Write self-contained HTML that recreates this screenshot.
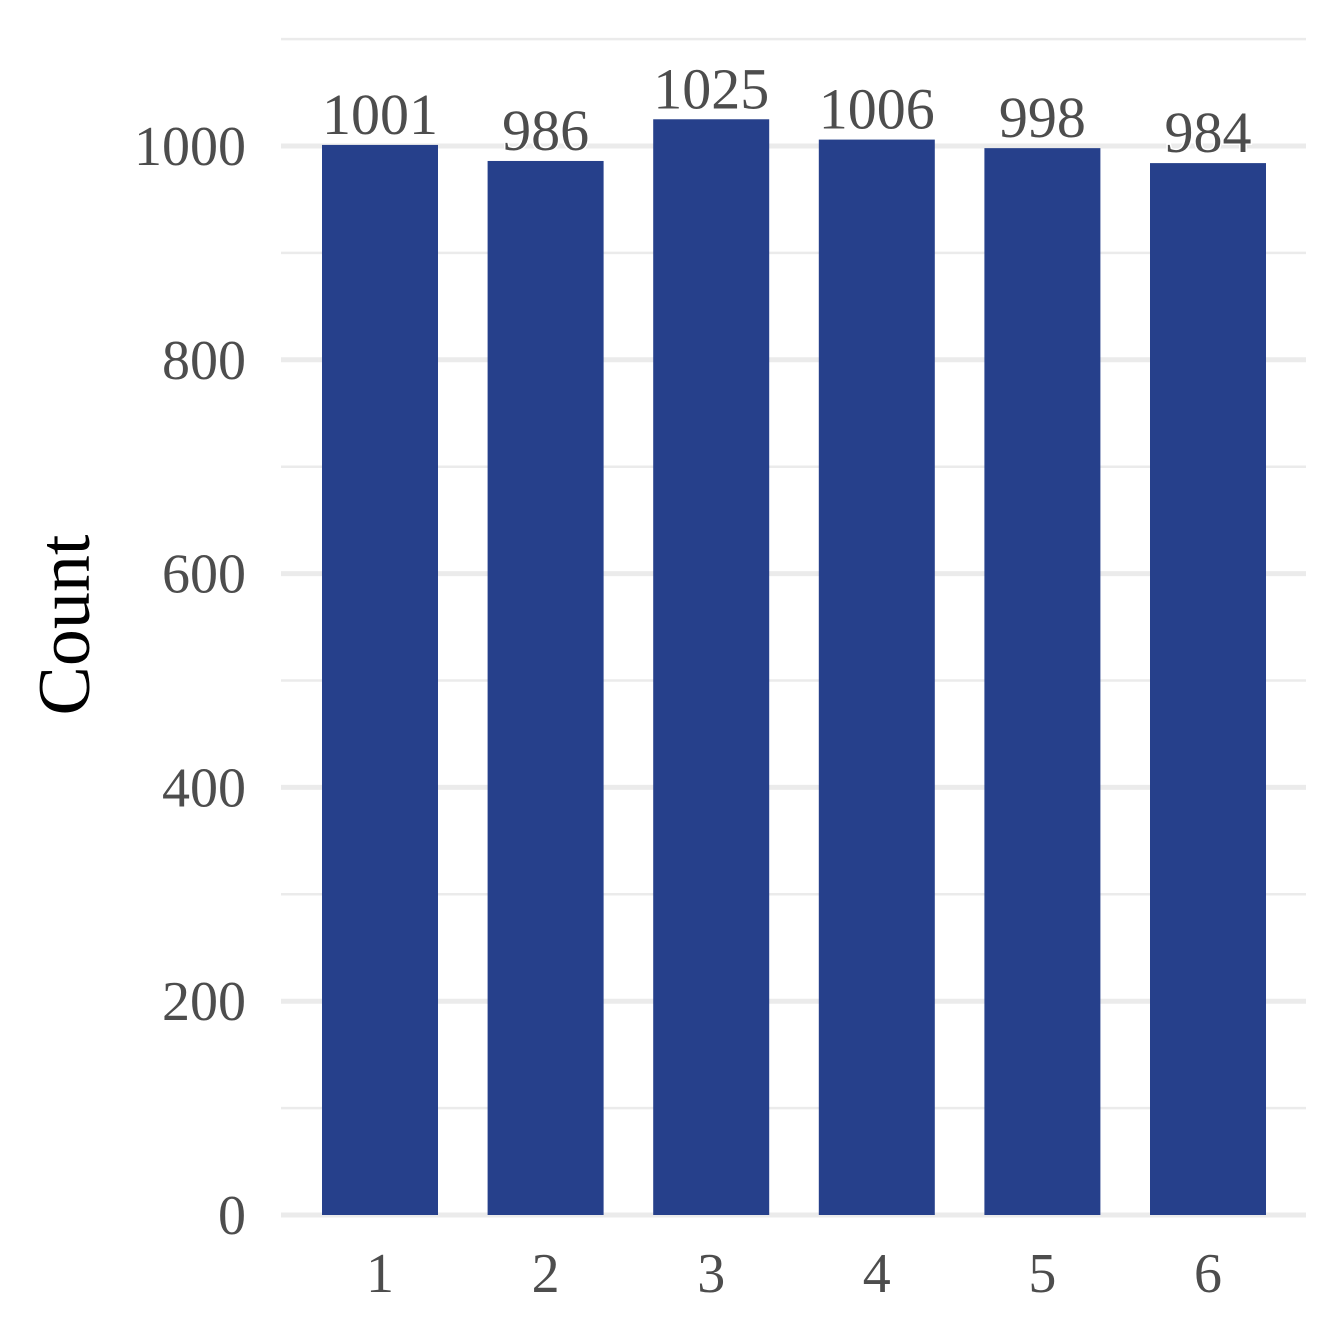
<!DOCTYPE html>
<html><head><meta charset="utf-8">
<style>
html,body{margin:0;padding:0;background:#fff;}
svg{display:block;}
text{font-family:"Liberation Serif",serif;}
</style></head>
<body>
<svg id="chart" width="1344" height="1344" xmlns="http://www.w3.org/2000/svg"></svg>
<script>
const categories = ["1","2","3","4","5","6"];
const counts = [1001, 986, 1025, 1006, 998, 984];
const majorTicks = [0, 200, 400, 600, 800, 1000];
const minorTicks = [100, 300, 500, 700, 900, 1100];

const svg = document.getElementById('chart');
const NS = 'http://www.w3.org/2000/svg';
const x0 = 281, x1 = 1306;
const yBase = 1215, pxPerUnit = (1215 - 146) / 1000;
const yScale = v => yBase - v * pxPerUnit;
const step = 165.6, firstCenter = 380, barW = 116;
const xScale = i => firstCenter + i * step;

function mk(tag, attrs) {
  const el = document.createElementNS(NS, tag);
  for (const k in attrs) el.setAttribute(k, attrs[k]);
  svg.appendChild(el);
  return el;
}

minorTicks.forEach(v => {
  const l = mk('line', {x1: x0, x2: x1, y1: yScale(v), y2: yScale(v), stroke: '#ebebeb', 'stroke-width': 2.5});
  
  
});
majorTicks.forEach(v => {
  const l = mk('line', {x1: x0, x2: x1, y1: yScale(v), y2: yScale(v), stroke: '#ebebeb', 'stroke-width': 5});
  
  
  const t = mk('text', {x: 246, y: yScale(v) + 19, 'text-anchor': 'end', 'font-size': 56, fill: '#4d4d4d'});
  t.textContent = v;
  
  
});

categories.forEach((c, i) => {
  const cx = xScale(i);
  const top = yScale(counts[i]);
  const r = mk('rect', {x: cx - barW / 2, y: top, width: barW, height: yBase - top, fill: '#26408b'});
  
  
  const lab = mk('text', {x: cx, y: top - 11, 'text-anchor': 'middle', 'font-size': 58, fill: '#4d4d4d', stroke: '#fff', 'stroke-width': 3, 'paint-order': 'stroke'});
  lab.textContent = counts[i];
  
  
  const xt = mk('text', {x: cx, y: 1292, 'text-anchor': 'middle', 'font-size': 56, fill: '#4d4d4d'});
  xt.textContent = c;
  
  
});

const yt = mk('text', {x: 0, y: 0, 'text-anchor': 'middle', 'font-size': 74, fill: '#000', transform: 'translate(89,625) rotate(-90)'});
yt.textContent = 'Count';


</script>
</body></html>
